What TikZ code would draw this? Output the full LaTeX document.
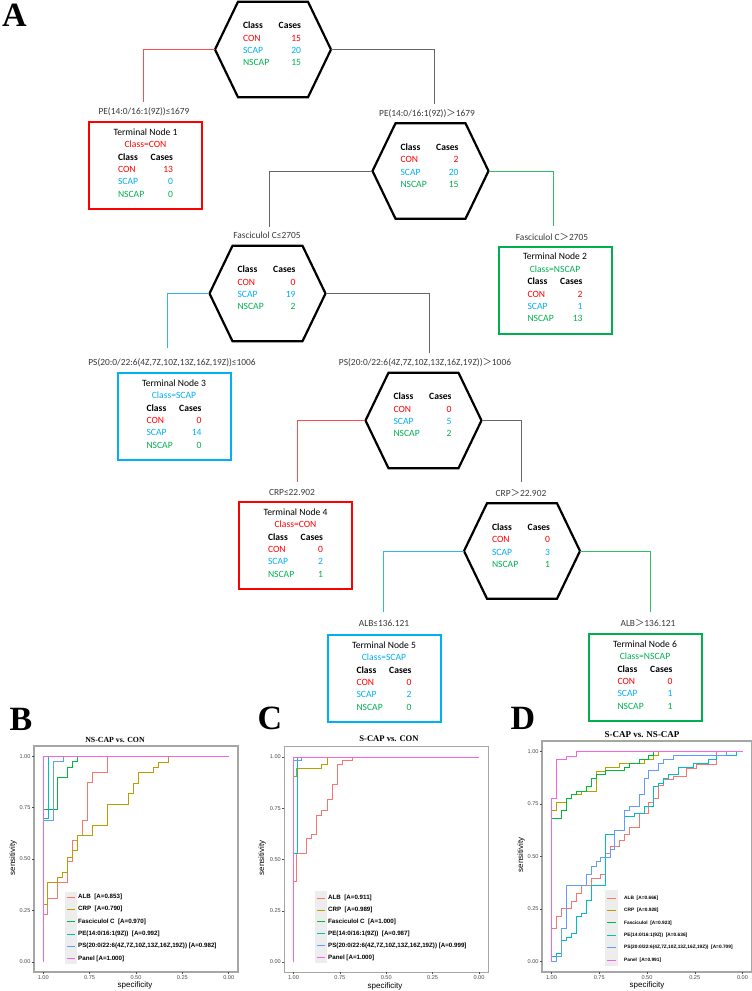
\documentclass[tikz,border=0pt]{standalone}
\usepackage{fontspec}
\setmainfont{Carlito}
\newfontfamily\arialf{Liberation Sans}
\newfontfamily\timesf{Liberation Serif}
\newfontfamily\cjkf{Noto Sans CJK SC}
\newcommand{\gtsym}{{\cjkf ＞}}
\definecolor{conc}{HTML}{FF0000}
\definecolor{scapc}{HTML}{00B0F0}
\definecolor{nscapc}{HTML}{00B050}
\definecolor{linered}{HTML}{FF4D4D}
\definecolor{lineblue}{HTML}{2DB6F0}
\definecolor{linegreen}{HTML}{2EBE62}
\definecolor{linegray}{HTML}{666666}
\definecolor{labgray}{HTML}{3A3A3A}
\definecolor{calb}{HTML}{F8766D}
\definecolor{ccrp}{HTML}{B79F00}
\definecolor{cfas}{HTML}{00BA38}
\definecolor{cpe}{HTML}{00BFC4}
\definecolor{cps}{HTML}{619CFF}
\definecolor{cpan}{HTML}{F564E3}
\definecolor{keybg}{HTML}{EDEDED}
\definecolor{framec}{HTML}{A6A6A6}
\definecolor{tickc}{HTML}{4D4D4D}
\tikzset{
 hexbox/.style={rectangle, draw=none, inner sep=0pt, minimum width=116pt, minimum height=95.5pt},
 hexline/.style={draw=black, line width=2.2pt, line join=miter},
 termbox/.style={rectangle, line width=2pt, inner sep=0pt, minimum width=113pt, minimum height=87pt},
 treetext/.style={align=center, inner sep=0pt, font=\fontsize{9.6}{12.4}\selectfont},
 lab/.style={inner sep=0pt, text=labgray, font=\fontsize{9.4}{11}\selectfont},
 redline/.style={draw=linered, line width=1pt},
 blueline/.style={draw=lineblue, line width=1pt},
 greenline/.style={draw=linegreen, line width=1pt},
 grayline/.style={draw=linegray, line width=1pt},
 panlet/.style={inner sep=0pt, font=\fontsize{34}{34}\timesf\bfseries},
 rtitle/.style={inner sep=0pt, font=\timesf\bfseries},
 frame/.style={draw=framec, line width=1.2pt},
 tickm/.style={draw=tickc, line width=0.5pt},
 ticklab/.style={inner sep=1pt, text=tickc, font=\fontsize{5.6}{6}\arialf},
 axtitle/.style={inner sep=0pt, font=\fontsize{8}{9}\arialf},
 curve/.style={line width=0.8pt, line join=miter},
 legtext/.style={anchor=west, inner sep=0pt, font=\fontsize{6.2}{7}\arialf\bfseries},
 legtextD/.style={anchor=west, inner sep=0pt, font=\fontsize{4.8}{6}\arialf\bfseries},
 rocB/.style={xshift=228.7pt, yshift=-961.8pt, x={(-185.5pt,0pt)}, y={(0pt,205.5pt)}},
 rocC/.style={xshift=479pt, yshift=-962pt, x={(-185.5pt,0pt)}, y={(0pt,205pt)}},
 rocD/.style={xshift=742.5pt, yshift=-961.5pt, x={(-191pt,0pt)}, y={(0pt,210pt)}}
}
\newcommand{\rowsfour}[4]{\makebox[#1pt]{\bfseries Class\hfill Cases}\\\makebox[#1pt]{\color{conc}CON\hfill #2}\\\makebox[#1pt]{\color{scapc}SCAP\hfill #3}\\\makebox[#1pt]{\color{nscapc}NSCAP\hfill #4}}
\newcommand{\hexnode}[6]{%
 \node[hexbox] (#1) at (#2,#3) {};
 \draw[hexline] (#2-58,#3) -- (#2-35,#3-47.75) -- (#2+35,#3-47.75) -- (#2+58,#3) -- (#2+35,#3+47.75) -- (#2-35,#3+47.75) -- cycle;
 \node[treetext] (#1t) at (#2-1,#3-5.5) {\rowsfour{58}{#4}{#5}{#6}};
}
\newcommand{\termnode}[9]{%
 \node[termbox, draw=#4] (#1) at (#2,#3) {};
 \node[treetext] (#1t) at (#2,#3-2.5) {Terminal Node #5\\\textcolor{#4}{Class=#6}\\\rowsfour{55}{#7}{#8}{#9}};
}
\newcommand{\rocaxes}[1]{%
 \draw[frame] (1.05,-0.05) rectangle (-0.05,1.05);
 \foreach \v/\t [count=\i] in {0/0.00,0.25/0.25,0.5/0.50,0.75/0.75,1/1.00}{
  \draw[tickm] (1.05,\v) -- ++(-2.2pt,0pt) node[ticklab,anchor=east] (#1y\i) {\t};
  \draw[tickm] (\v,-0.05) -- ++(0pt,-2.2pt) node[ticklab,anchor=north] (#1x\i) {\t};
 }
}
\begin{document}
\begin{tikzpicture}[x=1pt,y=-1pt]
\useasboundingbox[fill=white] (0,0) rectangle (752,991);

% ---------------- Panel A: tree ----------------
\node[panlet] (pA) at (14.5,15) {A};

\coordinate (c1) at (143,102);
\coordinate (c2) at (434,104);
\coordinate (c3) at (553,226);
\coordinate (c4) at (269,227);
\coordinate (c5) at (167,348);
\coordinate (c6) at (429,353);
\coordinate (c7) at (297,482);
\coordinate (c8) at (521,482);
\coordinate (c9) at (383.5,612);
\coordinate (c10) at (650,612);

\hexnode{h1}{273}{49.5}{15}{20}{15}
\hexnode{h2}{430.5}{171}{2}{20}{15}
\hexnode{h3}{267.5}{293.5}{0}{19}{2}
\hexnode{h4}{423.5}{420.5}{0}{5}{2}
\hexnode{h5}{522}{551}{0}{3}{1}

\draw[redline] (h1.west) -| (c1);
\draw[grayline] (h1.east) -| (c2);
\draw[greenline] (h2.east) -| (c3);
\draw[grayline] (h2.west) -| (c4);
\draw[blueline] (h3.west) -| (c5);
\draw[grayline] (h3.east) -| (c6);
\draw[redline] (h4.west) -| (c7);
\draw[grayline] (h4.east) -| (c8);
\draw[blueline] (h5.west) -| (c9);
\draw[greenline] (h5.east) -| (c10);

\termnode{t1}{145.5}{165.5}{conc}{1}{CON}{13}{0}{0}
\termnode{t2}{555}{290}{nscapc}{2}{NSCAP}{2}{1}{13}
\termnode{t3}{174}{416.5}{scapc}{3}{SCAP}{0}{14}{0}
\termnode{t4}{295.5}{545.5}{conc}{4}{CON}{0}{2}{1}
\termnode{t5}{384}{678.5}{scapc}{5}{SCAP}{0}{2}{0}
\termnode{t6}{645}{677.5}{nscapc}{6}{NSCAP}{0}{1}{1}

\node[lab] (l1) at (144,112) {PE(14:0/16:1(9Z))≤1679};
\node[lab] (l2) at (427,114) {PE(14:0/16:1(9Z))\gtsym1679};
\node[lab] (l3) at (552,237) {Fasciculol C\gtsym2705};
\node[lab] (l4) at (267,235) {Fasciculol C≤2705};
\node[lab] (l5) at (172,363) {PS(20:0/22:6(4Z,7Z,10Z,13Z,16Z,19Z))≤1006};
\node[lab] (l6) at (425,363) {PS(20:0/22:6(4Z,7Z,10Z,13Z,16Z,19Z))\gtsym1006};
\node[lab] (l7) at (292,492) {CRP≤22.902};
\node[lab] (l8) at (521,493) {CRP\gtsym22.902};
\node[lab] (l9) at (384,623) {ALB≤136.121};
\node[lab] (l10) at (648,623) {ALB\gtsym136.121};

% ---------------- Panel B ----------------
\node[panlet] (pB) at (21,719) {B};
\node[rtitle, font=\fontsize{7.8}{8}\timesf\bfseries] (tB) at (115,740) {NS-CAP vs. CON};
\begin{scope}[rocB]
\rocaxes{B}
\draw[curve, calb] (1,0) -- (1,0.231) -- (0.976,0.231) -- (0.976,0.309) -- (0.922,0.309) -- (0.922,0.385) -- (0.868,0.385) -- (0.868,0.487) -- (0.841,0.487) -- (0.841,0.59) -- (0.814,0.59) -- (0.814,0.615) -- (0.787,0.615) -- (0.787,0.69) -- (0.76,0.69) -- (0.76,0.872) -- (0.733,0.872) -- (0.733,0.92) -- (0.652,0.92) -- (0.652,1) -- (0,1);
\draw[curve, ccrp] (1,0) -- (1,0.28) -- (0.976,0.28) -- (0.976,0.385) -- (0.922,0.385) -- (0.922,0.41) -- (0.895,0.41) -- (0.895,0.437) -- (0.868,0.437) -- (0.868,0.51) -- (0.841,0.51) -- (0.841,0.54) -- (0.814,0.54) -- (0.814,0.615) -- (0.733,0.615) -- (0.733,0.665) -- (0.652,0.665) -- (0.652,0.765) -- (0.541,0.765) -- (0.541,0.82) -- (0.514,0.82) -- (0.514,0.87) -- (0.487,0.87) -- (0.487,0.92) -- (0.406,0.92) -- (0.406,0.945) -- (0.379,0.945) -- (0.379,0.97) -- (0.325,0.97) -- (0.325,1) -- (0,1);
\draw[curve, cfas] (1,0) -- (1,0.744) -- (0.922,0.744) -- (0.922,0.896) -- (0.868,0.896) -- (0.868,0.945) -- (0.841,0.945) -- (0.841,0.974) -- (0.814,0.974) -- (0.814,1) -- (0,1);
\draw[curve, cpe] (1,0) -- (1,0.70) -- (0.971,0.70) -- (0.971,1) -- (0,1);
\draw[curve, cps] (1,0) -- (1,0.69) -- (0.945,0.69) -- (0.945,0.975) -- (0.891,0.975) -- (0.891,1) -- (0,1);
\draw[curve, cpan] (1,0) -- (1,1) -- (0,1);
\end{scope}
\node[axtitle, rotate=90] (sB) at (13,858) {sensitivity};
\node[axtitle] (xB) at (135,985) {specificity};
\fill[keybg] (65,892) rectangle (77,964);
\draw[curve, calb] (67,897) -- (75,897); \node[legtext] (bl1) at (78,897) {ALB\ \ [A=0.853]};
\draw[curve, ccrp] (67,909.3) -- (75,909.3); \node[legtext] (bl2) at (78,909.3) {CRP\ \ [A=0.790]};
\draw[curve, cfas] (67,921.6) -- (75,921.6); \node[legtext] (bl3) at (78,921.6) {Fasciculol C\ \ [A=0.970]};
\draw[curve, cpe] (67,933.9) -- (75,933.9); \node[legtext] (bl4) at (78,933.9) {PE(14:0/16:1(9Z))\ \ [A=0.992]};
\draw[curve, cps] (67,946.2) -- (75,946.2); \node[legtext] (bl5) at (78,946.2) {PS(20:0/22:6(4Z,7Z,10Z,13Z,16Z,19Z)) [A=0.982]};
\draw[curve, cpan] (67,958.5) -- (75,958.5); \node[legtext] (bl6) at (78,958.5) {Panel [A=1.000]};

% ---------------- Panel C ----------------
\node[panlet] (pC) at (270,718) {C};
\node[rtitle, font=\fontsize{8.6}{9}\timesf\bfseries] (tC) at (389,739) {S-CAP vs. CON};
\begin{scope}[rocC]
\rocaxes{C}
\draw[curve, calb] (1,0) -- (1,0.395) -- (0.983,0.395) -- (0.983,0.53) -- (0.929,0.53) -- (0.929,0.603) -- (0.902,0.603) -- (0.902,0.624) -- (0.875,0.624) -- (0.875,0.717) -- (0.848,0.717) -- (0.848,0.738) -- (0.818,0.738) -- (0.818,0.794) -- (0.791,0.794) -- (0.791,0.867) -- (0.764,0.867) -- (0.764,0.964) -- (0.737,0.964) -- (0.737,0.985) -- (0.681,0.985) -- (0.681,1) -- (0,1);
\draw[curve, ccrp] (1,0) -- (1,0.904) -- (0.983,0.904) -- (0.983,0.945) -- (0.848,0.945) -- (0.848,0.964) -- (0.818,0.964) -- (0.818,1) -- (0,1);
\draw[curve, cfas] (1,0) -- (1,1) -- (0,1);
\draw[curve, cpe] (1,0) -- (1,0.53) -- (0.978,0.53) -- (0.978,1) -- (0,1);
\draw[curve, cps] (1,0) -- (1,0.982) -- (0.956,0.982) -- (0.956,1) -- (0,1);
\draw[curve, cpan] (1,0) -- (1,1) -- (0,1);
\end{scope}
\node[axtitle, rotate=90] (sC) at (262,858) {sensitivity};
\node[axtitle] (xC) at (385,986) {specificity};
\fill[keybg] (315,891) rectangle (327,963);
\draw[curve, calb] (317,898) -- (325,898); \node[legtext] (cl1) at (328,898) {ALB\ \ [A=0.911]};
\draw[curve, ccrp] (317,909.9) -- (325,909.9); \node[legtext] (cl2) at (328,909.9) {CRP\ \ [A=0.989]};
\draw[curve, cfas] (317,921.8) -- (325,921.8); \node[legtext] (cl3) at (328,921.8) {Fasciculol C\ \ [A=1.000]};
\draw[curve, cpe] (317,933.7) -- (325,933.7); \node[legtext] (cl4) at (328,933.7) {PE(14:0/16:1(9Z))\ \ [A=0.987]};
\draw[curve, cps] (317,945.6) -- (325,945.6); \node[legtext] (cl5) at (328,945.6) {PS(20:0/22:6(4Z,7Z,10Z,13Z,16Z,19Z)) [A=0.999]};
\draw[curve, cpan] (317,957.5) -- (325,957.5); \node[legtext] (cl6) at (328,957.5) {Panel [A=1.000]};

% ---------------- Panel D ----------------
\node[panlet] (pD) at (523,718) {D};
\node[rtitle, font=\fontsize{9}{10}\timesf\bfseries] (tD) at (642,735) {S-CAP vs. NS-CAP};
\begin{scope}[rocD]
\rocaxes{D}
\draw[curve, calb] (1,0) -- (1,0.158) -- (0.973,0.158) -- (0.973,0.217) -- (0.95,0.217) -- (0.95,0.252) -- (0.898,0.252) -- (0.898,0.285) -- (0.872,0.285) -- (0.872,0.325) -- (0.846,0.325) -- (0.846,0.361) -- (0.793,0.361) -- (0.793,0.396) -- (0.746,0.396) -- (0.746,0.415) -- (0.72,0.415) -- (0.72,0.515) -- (0.694,0.515) -- (0.694,0.55) -- (0.645,0.55) -- (0.645,0.575) -- (0.619,0.575) -- (0.619,0.606) -- (0.593,0.606) -- (0.593,0.64) -- (0.54,0.64) -- (0.54,0.706) -- (0.493,0.706) -- (0.493,0.758) -- (0.467,0.758) -- (0.467,0.777) -- (0.441,0.777) -- (0.441,0.84) -- (0.415,0.84) -- (0.415,0.865) -- (0.362,0.865) -- (0.362,0.88) -- (0.292,0.88) -- (0.292,0.92) -- (0.24,0.92) -- (0.24,0.94) -- (0.135,0.94) -- (0.135,1) -- (0,1);
\draw[curve, ccrp] (1,0) -- (1,0.718) -- (0.973,0.718) -- (0.973,0.758) -- (0.924,0.758) -- (0.924,0.777) -- (0.898,0.777) -- (0.898,0.796) -- (0.846,0.796) -- (0.846,0.812) -- (0.767,0.812) -- (0.767,0.905) -- (0.72,0.905) -- (0.72,0.925) -- (0.645,0.925) -- (0.645,0.944) -- (0.514,0.944) -- (0.514,0.963) -- (0.467,0.963) -- (0.467,0.983) -- (0.441,0.983) -- (0.441,1) -- (0,1);
\draw[curve, cfas] (1,0) -- (1,0.682) -- (0.95,0.682) -- (0.95,0.718) -- (0.924,0.718) -- (0.924,0.777) -- (0.898,0.777) -- (0.898,0.796) -- (0.872,0.796) -- (0.872,0.812) -- (0.819,0.812) -- (0.819,0.832) -- (0.793,0.832) -- (0.793,0.872) -- (0.767,0.872) -- (0.767,0.891) -- (0.72,0.891) -- (0.72,0.912) -- (0.619,0.912) -- (0.619,0.925) -- (0.593,0.925) -- (0.593,0.944) -- (0.54,0.944) -- (0.54,0.963) -- (0.493,0.963) -- (0.493,0.983) -- (0.467,0.983) -- (0.467,1) -- (0,1);
\draw[curve, cpe] (1,0) -- (1,0.023) -- (0.973,0.023) -- (0.973,0.04) -- (0.95,0.04) -- (0.95,0.101) -- (0.924,0.101) -- (0.924,0.115) -- (0.898,0.115) -- (0.898,0.134) -- (0.872,0.134) -- (0.872,0.217) -- (0.846,0.217) -- (0.846,0.23) -- (0.819,0.23) -- (0.819,0.29) -- (0.793,0.29) -- (0.793,0.361) -- (0.72,0.361) -- (0.72,0.606) -- (0.671,0.606) -- (0.671,0.626) -- (0.619,0.626) -- (0.619,0.693) -- (0.566,0.693) -- (0.566,0.706) -- (0.514,0.706) -- (0.514,0.737) -- (0.467,0.737) -- (0.467,0.832) -- (0.441,0.832) -- (0.441,0.85) -- (0.415,0.85) -- (0.415,0.87) -- (0.389,0.87) -- (0.389,0.89) -- (0.336,0.89) -- (0.336,0.925) -- (0.257,0.925) -- (0.257,0.944) -- (0.179,0.944) -- (0.179,0.963) -- (0.135,0.963) -- (0.135,0.983) -- (0.03,0.983) -- (0.03,1) -- (0,1);
\draw[curve, cps] (1,0) -- (0.973,0) -- (0.973,0.023) -- (0.95,0.023) -- (0.95,0.158) -- (0.924,0.158) -- (0.924,0.361) -- (0.819,0.361) -- (0.819,0.415) -- (0.793,0.415) -- (0.793,0.455) -- (0.767,0.455) -- (0.767,0.475) -- (0.746,0.475) -- (0.746,0.494) -- (0.694,0.494) -- (0.694,0.534) -- (0.671,0.534) -- (0.671,0.626) -- (0.619,0.626) -- (0.619,0.718) -- (0.593,0.718) -- (0.593,0.737) -- (0.54,0.737) -- (0.54,0.796) -- (0.514,0.796) -- (0.514,0.872) -- (0.493,0.872) -- (0.493,0.912) -- (0.441,0.912) -- (0.441,0.944) -- (0.415,0.944) -- (0.415,0.963) -- (0.362,0.963) -- (0.362,0.983) -- (0.083,0.983) -- (0.083,1) -- (0,1);
\draw[curve, cpan] (1,0) -- (1,0.777) -- (0.973,0.777) -- (0.973,0.963) -- (0.924,0.963) -- (0.924,0.979) -- (0.872,0.979) -- (0.872,1) -- (0,1);
\end{scope}
\node[axtitle, rotate=90] (sD) at (521,855) {sensitivity};
\node[axtitle] (xD) at (647,985) {specificity};
\fill[keybg] (605,890) rectangle (618,966);
\draw[curve, calb] (607,898) -- (616,898); \node[legtextD] (dl1) at (624,898) {ALB\ \ [A=0.666]};
\draw[curve, ccrp] (607,910.4) -- (616,910.4); \node[legtextD] (dl2) at (624,910.4) {CRP\ \ [A=0.928]};
\draw[curve, cfas] (607,922.8) -- (616,922.8); \node[legtextD] (dl3) at (624,922.8) {Fasciculol\ \ [A=0.923]};
\draw[curve, cpe] (607,935.2) -- (616,935.2); \node[legtextD] (dl4) at (624,935.2) {PE(14:0/16:1(9Z))\ \ [A=0.636]};
\draw[curve, cps] (607,947.6) -- (616,947.6); \node[legtextD] (dl5) at (624,947.6) {PS(20:0/22:6(4Z,7Z,10Z,13Z,16Z,19Z))\ \ [A=0.709]};
\draw[curve, cpan] (607,960) -- (616,960); \node[legtextD] (dl6) at (624,960) {Panel\ \ [A=0.991]};
\end{tikzpicture}
\end{document}
